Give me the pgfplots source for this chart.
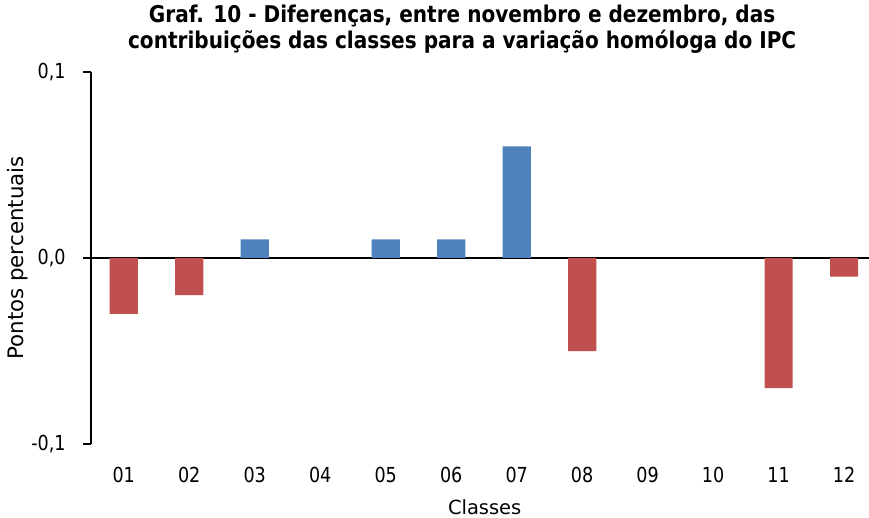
\documentclass[border=0pt]{standalone}
\usepackage{fontspec}
\setmainfont{DejaVu Sans}
\newfontfamily\titlefont[FakeStretch=0.87]{DejaVu Sans}
\newfontfamily\tickfont[FakeStretch=0.85]{DejaVu Sans}
\usepackage{pgfplots}
\pgfplotsset{compat=1.18}
\usetikzlibrary{calc}
\definecolor{redbar}{RGB}{192,80,77}
\definecolor{bluebar}{RGB}{79,129,189}

\begin{document}
\begin{tikzpicture}
\begin{axis}[
    name=ax,
    scale only axis,
    width=583.5pt,
    height=279pt,
    xmin=0.5, xmax=12.38,
    ymin=-0.1, ymax=0.1,
    axis x line*=bottom,
    axis y line*=left,
    x axis line style={draw=none},
    y axis line style={line width=1.1pt, black},
    xtick={1,2,3,4,5,6,7,8,9,10,11,12},
    xticklabels={01,02,03,04,05,06,07,08,09,10,11,12},
    xtick style={draw=none},
    xticklabel style={anchor=center, yshift=-17pt},
    ytick={-0.1,0,0.1},
    yticklabels={{-0,1},{0,0},{0,1}},
    yticklabel style={xshift=-9.5pt},
    ytick style={line width=0.8pt, black},
    tick align=outside,
    major tick length=6pt,
    ticklabel style={font=\tickfont\fontsize{15.5}{17}\selectfont},
    ylabel={Pontos percentuais},
    ylabel style={at={(axis description cs:-0.094,0.5)}, anchor=center, font=\fontsize{16}{18}\selectfont},
    xlabel={Classes},
    xlabel style={at={(axis description cs:0.506,-0.169)}, anchor=center, font=\fontsize{14.6}{16}\selectfont},
    title={Graf. 10 - Diferenças, entre novembro e dezembro, das\\contribuições das classes para a variação homóloga do IPC},
    title style={at={(axis description cs:0.477,1.094)}, anchor=center, align=center,
        font=\titlefont\bfseries\fontsize{17.3}{19.5}\selectfont},
    ybar,
    bar width=0.43,
    every axis plot/.append style={bar shift=0pt, draw=none},
    extra y ticks={0},
    extra y tick labels={},
    extra y tick style={grid=major, major grid style={black, line width=1.3pt}, major tick length=0pt},
]
\addplot[fill=redbar] coordinates {(1,-0.03) (2,-0.02) (8,-0.05) (11,-0.07) (12,-0.01)};
\addplot[fill=bluebar] coordinates {(3,0.01) (5,0.01) (6,0.01) (7,0.06)};
\end{axis}
\pgfresetboundingbox
\path[use as bounding box] ($(ax.south west)+(-68.25pt,-54.75pt)$) rectangle ($(ax.north east)+(0,54pt)$);
\end{tikzpicture}
\end{document}
